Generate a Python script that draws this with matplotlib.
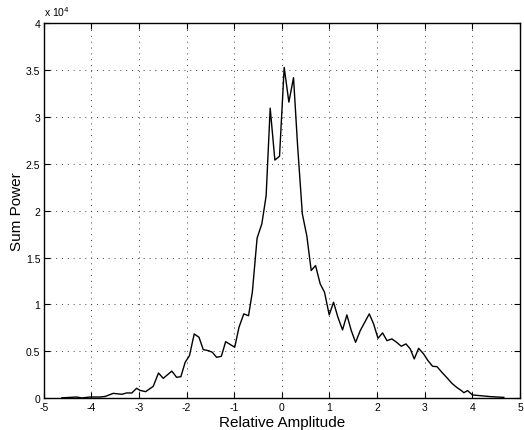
import matplotlib
matplotlib.use("Agg")
import matplotlib.pyplot as plt
from matplotlib.ticker import FuncFormatter

amplitude = [-4.62, -4.31, -4.20, -4.03, -3.82, -3.71, -3.54, -3.36, -3.26, -3.15,
             -3.05, -2.98, -2.86, -2.70, -2.59, -2.49, -2.31, -2.21, -2.12, -2.03,
             -1.94, -1.84, -1.74, -1.65, -1.54, -1.46, -1.37, -1.27, -1.18, -0.99,
             -0.90, -0.80, -0.70, -0.62, -0.52, -0.42, -0.33, -0.245, -0.147, -0.049,
             0.049, 0.147, 0.245, 0.33, 0.43, 0.525, 0.616, 0.707, 0.805, 0.896,
             0.994, 1.085, 1.177, 1.274, 1.365, 1.457, 1.548, 1.646, 1.835, 1.926,
             2.018, 2.115, 2.206, 2.31, 2.41, 2.507, 2.605, 2.696, 2.78, 2.871,
             2.976, 3.067, 3.165, 3.256, 3.36, 3.47, 3.57, 3.67, 3.78, 3.82,
             3.90, 4.00, 4.17, 4.38, 4.66]
sum_power = [50, 140, 40, 140, 140, 200, 530, 430, 570, 570,
             1070, 850, 710, 1280, 2700, 2130, 2900, 2240, 2310, 3840,
             4550, 6860, 6510, 5190, 5080, 4910, 4370, 4480, 6040, 5440,
             7570, 9000, 8800, 11300, 17070, 18600, 21600, 30930, 25390, 25800,
             35270, 31570, 34170, 26950, 19660, 17280, 13620, 14150, 12200, 11300,
             8890, 10240, 8640, 7290, 8890, 7220, 5970, 7220, 9000, 7930,
             6400, 6970, 6150, 6330, 5970, 5550, 5800, 5260, 4200, 5330,
             4730, 4020, 3410, 3380, 2770, 2170, 1600, 1170, 780, 600,
             820, 360, 280, 180, 100]

x_ticks = [-5, -4, -3, -2, -1, 0, 1, 2, 3, 4, 5]
y_ticks = [0, 5000, 10000, 15000, 20000, 25000, 30000, 35000, 40000]

plt.rcParams['font.family'] = ['Liberation Sans', 'DejaVu Sans']

fig = plt.figure(figsize=(5.24, 4.31), dpi=100)
ax = fig.add_axes([0.0834, 0.0735, 0.9090, 0.8708])

ax.plot(amplitude, sum_power, color='black', linewidth=1.0)

ax.set_xlim(-5, 5)
ax.set_ylim(0, 40000)
ax.set_xticks(x_ticks)
ax.set_yticks(y_ticks)
ax.yaxis.set_major_formatter(FuncFormatter(lambda v, p: '%g' % (v / 1e4)))
ax.xaxis.set_major_formatter(FuncFormatter(lambda v, p: '%g' % v))

ax.grid(True, color='0.25', linestyle=(0, (1, 5)), linewidth=0.7)
ax.tick_params(direction='in', length=4, width=0.8, labelsize=7.5,
               top=True, right=True, pad=2.5)
for s in ax.spines.values():
    s.set_linewidth(1.0)

ax.set_xlabel('Relative Amplitude', fontsize=11, labelpad=2)
ax.set_ylabel('Sum Power', fontsize=11, labelpad=1)

ax.text(0.0, 1.014, 'x 10$^{4}$', transform=ax.transAxes, fontsize=7.5,
        ha='left', va='bottom')

fig.savefig('out.png', dpi=100)
